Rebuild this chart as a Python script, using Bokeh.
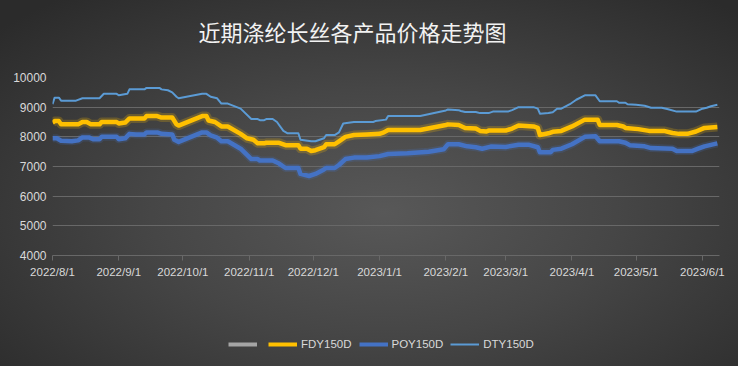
import pandas as pd
from bokeh.plotting import figure
from bokeh.layouts import column
from bokeh.models import (Range1d, MonthsTicker, DatetimeTickFormatter, Legend, LegendItem,
                          ColumnDataSource, SingleIntervalTicker, Label)
from bokeh.embed import file_html
from bokeh.resources import INLINE

# ---------------- data ----------------
title_text = "近期涤纶长丝各产品价格走势图"

fdy_dates = ["2022-08-01", "2022-08-02", "2022-08-04", "2022-08-05", "2022-08-13", "2022-08-15",
             "2022-08-17", "2022-08-19", "2022-08-23", "2022-08-24", "2022-08-31", "2022-09-01",
             "2022-09-04", "2022-09-06", "2022-09-13", "2022-09-14", "2022-09-19", "2022-09-21",
             "2022-09-26", "2022-09-28", "2022-09-29", "2022-10-10", "2022-10-12", "2022-10-13",
             "2022-10-16", "2022-10-19", "2022-10-22", "2022-10-28", "2022-10-31", "2022-11-03",
             "2022-11-05", "2022-11-08", "2022-11-09", "2022-11-15", "2022-11-18", "2022-11-24",
             "2022-11-25", "2022-11-28", "2022-11-30", "2022-12-02", "2022-12-06", "2022-12-07",
             "2022-12-11", "2022-12-13", "2022-12-16", "2022-12-20", "2022-12-26", "2023-01-01",
             "2023-01-03", "2023-01-05", "2023-01-20", "2023-02-01", "2023-02-02", "2023-02-07",
             "2023-02-10", "2023-02-15", "2023-02-17", "2023-02-20", "2023-02-21", "2023-03-01",
             "2023-03-04", "2023-03-07", "2023-03-14", "2023-03-16", "2023-03-17", "2023-03-21",
             "2023-03-23", "2023-03-27", "2023-04-01", "2023-04-07", "2023-04-13", "2023-04-14",
             "2023-04-22", "2023-04-25", "2023-04-26", "2023-05-02", "2023-05-07", "2023-05-14",
             "2023-05-18", "2023-05-21", "2023-05-25", "2023-05-29", "2023-06-02", "2023-06-08"]
fdy_values = [8480, 8530, 8530, 8420, 8420, 8500,
              8500, 8420, 8420, 8500, 8500, 8450,
              8480, 8620, 8620, 8700, 8700, 8650,
              8650, 8420, 8380, 8700, 8700, 8550,
              8500, 8350, 8350, 8100, 7950, 7900,
              7780, 7780, 7800, 7800, 7720, 7720,
              7600, 7600, 7520, 7550, 7650, 7750,
              7750, 7850, 8000, 8060, 8080, 8100,
              8150, 8230, 8230, 8400, 8420, 8400,
              8300, 8280, 8200, 8180, 8210, 8210,
              8280, 8380, 8350, 8300, 8060, 8120,
              8170, 8200, 8350, 8580, 8580, 8400,
              8400, 8350, 8300, 8260, 8200, 8200,
              8130, 8100, 8100, 8180, 8300, 8330]

poy_dates = ["2022-08-01", "2022-08-03", "2022-08-05", "2022-08-10", "2022-08-13", "2022-08-15",
             "2022-08-18", "2022-08-20", "2022-08-23", "2022-08-24", "2022-08-31", "2022-09-01",
             "2022-09-04", "2022-09-06", "2022-09-09", "2022-09-13", "2022-09-14", "2022-09-19",
             "2022-09-21", "2022-09-26", "2022-09-27", "2022-09-29", "2022-10-10", "2022-10-12",
             "2022-10-14", "2022-10-17", "2022-10-19", "2022-10-22", "2022-10-28", "2022-11-02",
             "2022-11-05", "2022-11-06", "2022-11-12", "2022-11-15", "2022-11-18", "2022-11-24",
             "2022-11-25", "2022-11-29", "2022-12-02", "2022-12-06", "2022-12-07", "2022-12-11",
             "2022-12-13", "2022-12-16", "2022-12-20", "2022-12-26", "2023-01-01", "2023-01-05",
             "2023-01-14", "2023-01-24", "2023-01-31", "2023-02-02", "2023-02-07", "2023-02-11",
             "2023-02-15", "2023-02-18", "2023-02-22", "2023-03-01", "2023-03-07", "2023-03-12",
             "2023-03-16", "2023-03-17", "2023-03-22", "2023-03-23", "2023-03-27", "2023-04-01",
             "2023-04-07", "2023-04-12", "2023-04-14", "2023-04-23", "2023-04-26", "2023-04-28",
             "2023-05-05", "2023-05-08", "2023-05-18", "2023-05-20", "2023-05-27", "2023-05-30",
             "2023-06-02", "2023-06-08"]
poy_values = [7950, 7950, 7870, 7850, 7880, 7980,
              7980, 7920, 7920, 8000, 8000, 7920,
              7950, 8100, 8080, 8080, 8150, 8150,
              8100, 8080, 7900, 7830, 8150, 8150,
              8050, 7970, 7850, 7850, 7600, 7250,
              7250, 7200, 7200, 7100, 6950, 6950,
              6750, 6680, 6750, 6900, 6950, 6950,
              7050, 7250, 7300, 7300, 7350, 7420,
              7450, 7500, 7580, 7750, 7750, 7680,
              7650, 7600, 7670, 7660, 7730, 7730,
              7650, 7480, 7480, 7560, 7600, 7750,
              8000, 8020, 7850, 7850, 7800, 7720,
              7680, 7620, 7600, 7520, 7520, 7600,
              7680, 7780]

dty_dates = ["2022-08-01", "2022-08-02", "2022-08-04", "2022-08-05", "2022-08-12", "2022-08-15",
             "2022-08-23", "2022-08-25", "2022-08-31", "2022-09-01", "2022-09-05", "2022-09-06",
             "2022-09-13", "2022-09-14", "2022-09-20", "2022-09-21", "2022-09-24", "2022-09-26",
             "2022-09-28", "2022-09-29", "2022-10-10", "2022-10-12", "2022-10-14", "2022-10-17",
             "2022-10-19", "2022-10-22", "2022-10-28", "2022-11-02", "2022-11-05", "2022-11-06",
             "2022-11-08", "2022-11-09", "2022-11-12", "2022-11-14", "2022-11-15", "2022-11-17",
             "2022-11-19", "2022-11-24", "2022-11-25", "2022-11-30", "2022-12-02", "2022-12-06",
             "2022-12-07", "2022-12-11", "2022-12-13", "2022-12-15", "2022-12-20", "2022-12-29",
             "2022-12-30", "2023-01-04", "2023-01-05", "2023-01-20", "2023-02-01", "2023-02-02",
             "2023-02-07", "2023-02-08", "2023-02-10", "2023-02-15", "2023-02-17", "2023-02-21",
             "2023-02-23", "2023-03-02", "2023-03-04", "2023-03-07", "2023-03-14", "2023-03-16",
             "2023-03-17", "2023-03-21", "2023-03-23", "2023-03-25", "2023-03-27", "2023-03-31",
             "2023-04-03", "2023-04-07", "2023-04-12", "2023-04-14", "2023-04-22", "2023-04-23",
             "2023-04-26", "2023-04-27", "2023-05-01", "2023-05-05", "2023-05-08", "2023-05-13",
             "2023-05-16", "2023-05-20", "2023-05-29", "2023-06-01", "2023-06-03", "2023-06-05",
             "2023-06-08"]
dty_values = [9100, 9320, 9320, 9220, 9220, 9300,
              9300, 9450, 9450, 9400, 9450, 9600,
              9600, 9650, 9650, 9600, 9570, 9500,
              9350, 9300, 9450, 9450, 9350, 9300,
              9120, 9120, 8950, 8600, 8600, 8560,
              8560, 8600, 8600, 8500, 8400, 8200,
              8120, 8120, 7900, 7850, 7850, 7950,
              8060, 8060, 8150, 8450, 8500, 8500,
              8530, 8580, 8700, 8700, 8890, 8920,
              8900, 8870, 8840, 8840, 8800, 8800,
              8850, 8850, 8900, 9000, 9000, 8950,
              8780, 8800, 8830, 8950, 8950, 9100,
              9250, 9400, 9400, 9200, 9200, 9150,
              9150, 9100, 9080, 9050, 8980, 8980,
              8930, 8850, 8850, 8950, 8980, 9030,
              9080]

series_names = ["", "FDY150D", "POY150D", "DTY150D"]
x_start, x_end = "2022-08-01", "2023-06-09"
y_start, y_end = 4000, 10000

W = 738
TEXT = "#d9d9d9"
NAN = float("nan")


def bare(height):
    f = figure(width=W, height=height, output_backend="svg", toolbar_location=None,
               x_axis_location=None, y_axis_location=None,
               x_range=Range1d(0, 1), y_range=Range1d(0, 1),
               min_border=0, min_border_left=0, min_border_right=0,
               min_border_top=0, min_border_bottom=0)
    f.background_fill_alpha = 0
    f.border_fill_alpha = 0
    f.outline_line_color = None
    f.grid.visible = False
    return f


# ---------------- title strip ----------------
# (the column aligns every strip's frame with the chart frame, which starts 52 px in)
pt = bare(60)
pt.add_layout(Label(x=146, y=30, x_units="screen", y_units="screen", text=title_text,
                    text_font="Noto Sans CJK SC", text_font_size="22px", text_color="#f2f2f2",
                    text_align="left", text_baseline="middle"))

# ---------------- main chart ----------------
p = figure(width=W, height=266, output_backend="svg", toolbar_location=None,
           x_axis_type="datetime",
           x_range=Range1d(pd.Timestamp(x_start), pd.Timestamp(x_end)),
           y_range=Range1d(y_start, y_end),
           min_border_left=52, min_border_right=19, min_border_top=17, min_border_bottom=71)
p.background_fill_alpha = 0
p.border_fill_alpha = 0
p.outline_line_color = None

grid_color = "#686868"
p.xgrid.grid_line_color = None
p.ygrid.grid_line_color = grid_color
p.ygrid.grid_line_width = 1
p.yaxis.ticker = SingleIntervalTicker(interval=1000)
p.ygrid.ticker = SingleIntervalTicker(interval=1000)

p.yaxis.axis_line_color = None
p.yaxis.major_tick_line_color = None
p.yaxis.minor_tick_line_color = None
p.yaxis.major_tick_out = 0
p.yaxis.major_tick_in = 0
p.yaxis.major_label_text_color = TEXT
p.yaxis.major_label_text_font = "Liberation Sans"
p.yaxis.major_label_text_font_size = "12px"
p.yaxis.major_label_standoff = 2

p.xaxis.ticker = MonthsTicker(months=list(range(1, 13)))
fmt = "%Y/%-m/%-d"
p.xaxis.formatter = DatetimeTickFormatter(days=fmt, months=fmt, years=fmt)
p.xaxis.axis_line_color = grid_color
p.xaxis.major_tick_line_color = grid_color
p.xaxis.major_tick_in = 0
p.xaxis.major_tick_out = 5
p.xaxis.minor_tick_line_color = None
p.xaxis.major_label_text_color = TEXT
p.xaxis.major_label_text_font = "Liberation Sans"
p.xaxis.major_label_text_font_size = "11.5px"
p.xaxis.major_label_standoff = 5

fdy_src = ColumnDataSource(dict(x=pd.to_datetime(fdy_dates), y=fdy_values))
poy_src = ColumnDataSource(dict(x=pd.to_datetime(poy_dates), y=poy_values))
dty_src = ColumnDataSource(dict(x=pd.to_datetime(dty_dates), y=dty_values))

p.line("x", "y", source=fdy_src, line_color="#ffc000", line_width=9, line_alpha=0.22, line_join="round")
p.line("x", "y", source=fdy_src, line_color="#ffc000", line_width=4.5, line_join="round")
p.line("x", "y", source=poy_src, line_color="#4472c4", line_width=8, line_alpha=0.2, line_join="round")
p.line("x", "y", source=poy_src, line_color="#4472c4", line_width=4.5, line_join="round")
p.line("x", "y", source=dty_src, line_color="#5b9bd5", line_width=2, line_join="round")

# ---------------- legend strip ----------------
pl = bare(40)
r0 = pl.line(x=[NAN], y=[NAN], line_color="#a5a5a5", line_width=4)
r1 = pl.line(x=[NAN], y=[NAN], line_color="#ffc000", line_width=4)
r2 = pl.line(x=[NAN], y=[NAN], line_color="#4472c4", line_width=4)
r3 = pl.line(x=[NAN], y=[NAN], line_color="#5b9bd5", line_width=2)
legend = Legend(items=[LegendItem(label=series_names[0], renderers=[r0]),
                       LegendItem(label=series_names[1], renderers=[r1]),
                       LegendItem(label=series_names[2], renderers=[r2]),
                       LegendItem(label=series_names[3], renderers=[r3])],
                orientation="horizontal", location=(176, 15))
legend.background_fill_alpha = 0
legend.border_line_color = None
legend.label_text_color = TEXT
legend.label_text_font = "Liberation Sans"
legend.label_text_font_size = "11.5px"
legend.glyph_width = 29
legend.glyph_height = 14
legend.label_height = 14
legend.label_width = 0
legend.label_standoff = 4
legend.spacing = 7
legend.padding = 0
legend.margin = 0
pl.add_layout(legend, "center")

page = column(pt, p, pl, spacing=0,
              styles={"background": "radial-gradient(ellipse 70% 75% at 52% 58%, #585858 0%, #464646 45%, #2b2b2b 100%)"})

open("out.html", "w").write(file_html(page, INLINE))
